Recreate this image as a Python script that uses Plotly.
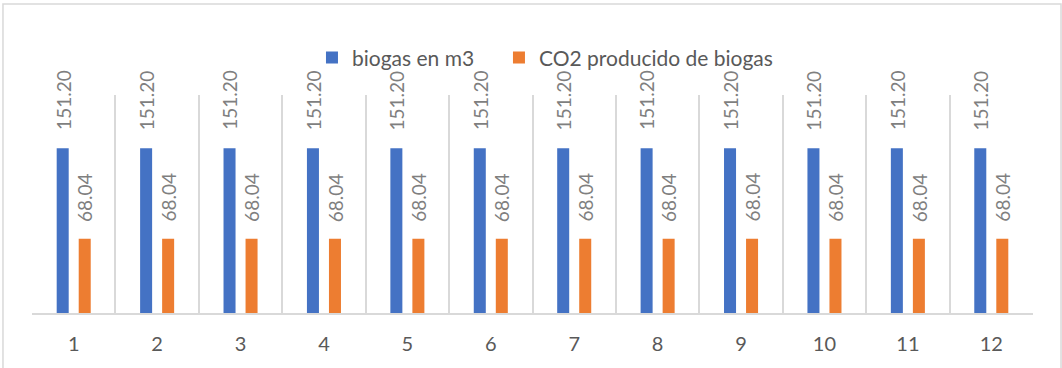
import plotly.graph_objects as go

# Monthly data
months = [1, 2, 3, 4, 5, 6, 7, 8, 9, 10, 11, 12]
tick_labels = [str(m) for m in months]
biogas_m3 = [151.20] * 12
co2_biogas = [68.04] * 12

BLUE = "#4472C4"
ORANGE = "#ED7D31"
GRID = "#d9d9d9"
FONT = "Lato"

fig = go.Figure()
fig.add_trace(go.Bar(x=months, y=biogas_m3, name="biogas en m3", legend="legend",
                     marker=dict(color=BLUE, line=dict(width=0))))
fig.add_trace(go.Bar(x=months, y=co2_biogas, name="CO2 producido de biogas", legend="legend2",
                     marker=dict(color=ORANGE, line=dict(width=0))))

# Rotated value labels above each bar
offset = 0.132
for m, b, c in zip(months, biogas_m3, co2_biogas):
    fig.add_annotation(x=m - offset, y=b, text=f"{b:.2f}", textangle=-90,
                       showarrow=False, xanchor="center", yanchor="bottom",
                       yshift=16, font=dict(family=FONT, size=19, color="#7f7f7f"))
    fig.add_annotation(x=m + offset, y=c, text=f"{c:.2f}", textangle=-90,
                       showarrow=False, xanchor="center", yanchor="bottom",
                       yshift=15, font=dict(family=FONT, size=19, color="#7f7f7f"))

# Chart-area border
fig.add_shape(type="rect", xref="paper", yref="paper",
              x0=-0.029, x1=1.028, y0=-0.27, y1=1.417,
              line=dict(color=GRID, width=1.5), fillcolor="rgba(0,0,0,0)")

legend_style = dict(orientation="h", xanchor="left", y=1.17, yanchor="middle",
                    font=dict(family=FONT, size=21, color="#595959"),
                    bgcolor="rgba(0,0,0,0)")

fig.update_layout(
    width=1062, height=368,
    margin=dict(l=32, r=29, t=95, b=55),
    paper_bgcolor="white", plot_bgcolor="white",
    barmode="group", bargap=0.472, bargroupgap=0.4545,
    font=dict(family=FONT, size=20, color="#595959"),
    legend=dict(x=0.2797, **legend_style),
    legend2=dict(x=0.4665, **legend_style),
    showlegend=True,
)
fig.update_xaxes(range=[0.5, 12.5], tickmode="array", tickvals=months, ticktext=tick_labels,
                 showgrid=False, showline=True, linecolor=GRID, linewidth=1.5,
                 ticks="", ticklabelstandoff=12, zeroline=False,
                 minor=dict(tick0=0.5, dtick=1, showgrid=True, gridcolor=GRID, gridwidth=1.5, ticks=""),
                 tickfont=dict(family=FONT, size=20, color="#595959"))
fig.update_yaxes(range=[0, 200], showgrid=False, showticklabels=False, showline=False,
                 zeroline=False, ticks="")

fig.write_html("out.html")
